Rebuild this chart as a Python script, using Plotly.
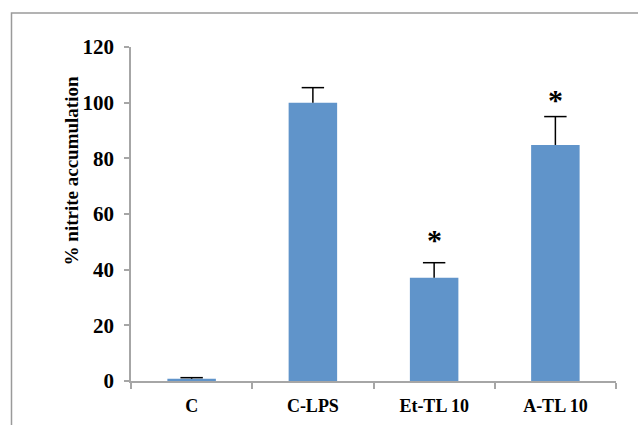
import plotly.graph_objects as go

categories = ["C", "C-LPS", "Et-TL 10", "A-TL 10"]
values = [0.8, 100.0, 37.1, 84.8]
errors = [0.4, 5.4, 5.4, 10.2]
stars = ["", "", "*", "*"]
star_y = [None, None, 51.0, 101.2]

FONT = "Liberation Serif"
BAR = "#6094CA"
AXIS = "#A6A6A6"

fig = go.Figure()
fig.add_trace(go.Bar(
    x=categories, y=values,
    marker=dict(color=BAR, line=dict(width=0)),
    error_y=dict(type="data", array=errors, arrayminus=[0]*len(errors),
                 symmetric=False, color="black", thickness=1.5, width=0),
))
# error bar caps
fig.add_trace(go.Scatter(
    x=categories, y=[v + e for v, e in zip(values, errors)], mode="markers",
    marker=dict(symbol="line-ew-open", size=16, color="black",
                line=dict(color="black", width=1.5)),
    hoverinfo="skip",
))

for c, s, yv in zip(categories, stars, star_y):
    if s:
        fig.add_annotation(x=c, y=yv, text="<b>" + s + "</b>", showarrow=False,
                           font=dict(family=FONT, size=30, color="black", weight=700),
                           yanchor="middle")

fig.add_annotation(xref="paper", yref="paper", x=-0.122, y=0.63, xanchor="center",
                   yanchor="middle",
                   text="<b>% nitrite accumulation</b>", textangle=-90, showarrow=False,
                   font=dict(family=FONT, size=19, color="black", weight=700))

fig.add_shape(type="rect", xref="paper", yref="paper",
              x0=-0.2464, x1=1.2, y0=-0.3, y1=1.1018,
              line=dict(color="#9A9A9A", width=1.5), layer="below")

fig.update_layout(
    width=638, height=425,
    margin=dict(l=131, r=22, t=47, b=44),
    paper_bgcolor="white", plot_bgcolor="white",
    bargap=0.6, showlegend=False,
    xaxis=dict(type="category", showline=True, linecolor=AXIS, linewidth=1.5,
               ticks="outside", tickson="boundaries", ticklen=6, tickcolor=AXIS,
               tickwidth=1.5, showgrid=False, ticklabelstandoff=8, automargin=False,
               tickfont=dict(family=FONT, size=18, color="black", weight=700)),
    yaxis=dict(range=[0, 120], dtick=20, showline=True, linecolor=AXIS, linewidth=1.5,
               ticks="outside", ticklen=5, tickcolor=AXIS, tickwidth=1.5,
               showgrid=False, zeroline=False, ticklabelstandoff=6, automargin=False,
               tickfont=dict(family=FONT, size=21, color="black", weight=700)),
)

fig.write_html("out.html")
